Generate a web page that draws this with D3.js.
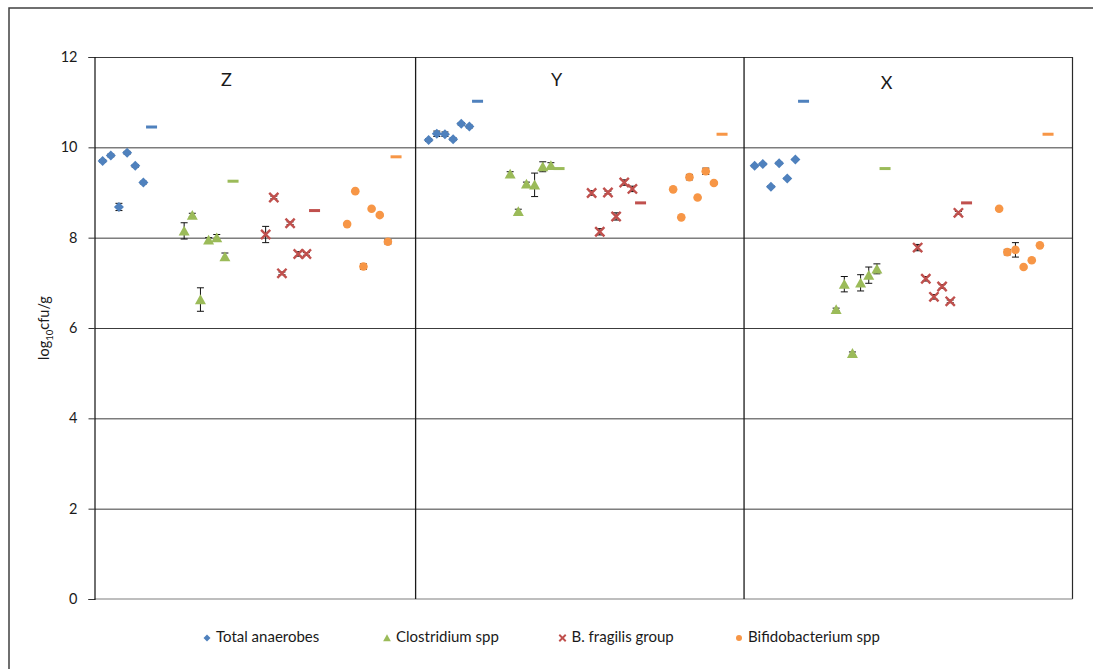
<!DOCTYPE html>
<html>
<head>
<meta charset="utf-8">
<script src="https://cdn.jsdelivr.net/npm/d3@7"></script>
<style>
  html, body { margin: 0; padding: 0; background: #fff; }
  svg { display: block; font-family: Lato, "Liberation Sans", sans-serif; }
</style>
</head>
<body>
<svg id="chart" width="1093" height="669"></svg>
<script>
// Sites (panels), left to right
const panels = ["Z", "Y", "X"];
const seriesNames = ["Total anaerobes", "Clostridium spp", "B. fragilis group", "Bifidobacterium spp"];
const yTicks = [0, 2, 4, 6, 8, 10, 12];

// log10 cfu/g per sample, one row per panel (Z, Y, X)
const totalAnaerobes = [
  [9.70, 9.82, 8.68, 9.88, 9.59, 9.22],
  [10.16, 10.30, 10.29, 10.18, 10.52, 10.46],
  [9.59, 9.63, 9.13, 9.65, 9.31, 9.73]
];
const totalAnaerobesErr = [
  [0.03, 0.03, 0.08, 0.03, 0.03, 0.03],
  [0.03, 0.06, 0.05, 0.03, 0.03, 0.03],
  [0.02, 0.02, 0.02, 0.02, 0.02, 0.02]
];
const totalAnaerobesRef = [10.45, 11.02, 11.02];

const clostridium = [
  [8.15, 8.50, 6.63, 7.95, 8.00, 7.58],
  [9.41, 8.58, 9.19, 9.17, 9.57, 9.60],
  [6.41, 6.97, 5.44, 7.00, 7.17, 7.31]
];
const clostridiumErr = [
  [0.18, 0.04, 0.26, 0.05, 0.07, 0.08],
  [0.05, 0.05, 0.04, 0.26, 0.11, 0.06],
  [0.03, 0.17, 0.03, 0.18, 0.18, 0.11]
];
const clostridiumRef = [9.25, 9.53, 9.53];

const bFragilis = [
  [8.07, 8.89, 7.21, 8.32, 7.64, 7.64],
  [8.99, 8.13, 9.00, 8.47, 9.22, 9.08],
  [7.78, 7.09, 6.69, 6.92, 6.59, 8.55]
];
const bFragilisErr = [
  [0.18, 0.03, 0.03, 0.03, 0.05, 0.03],
  [0.05, 0.07, 0.03, 0.08, 0.06, 0.06],
  [0.07, 0.05, 0.05, 0.04, 0.03, 0.03]
];
const bFragilisRef = [8.60, 8.77, 8.77];

const bifidobacterium = [
  [8.30, 9.03, 7.36, 8.64, 8.50, 7.91],
  [9.07, 8.45, 9.34, 8.89, 9.47, 9.21],
  [8.64, 7.68, 7.73, 7.35, 7.50, 7.83]
];
const bifidobacteriumErr = [
  [0.02, 0.02, 0.06, 0.02, 0.02, 0.05],
  [0.02, 0.02, 0.06, 0.02, 0.07, 0.02],
  [0.02, 0.06, 0.16, 0.02, 0.02, 0.02]
];
const bifidobacteriumRef = [9.79, 10.29, 10.29];

// ---- layout ----
const svg = d3.select("#chart");
const plotLeft = 94.5, plotRight = 1072.5, plotTop = 57, plotBottom = 599;
const x = d3.scaleLinear().domain([0, 120]).range([plotLeft, plotRight]);
const y = d3.scaleLinear().domain([0, 12]).range([plotBottom, plotTop]);
// each panel spans 40 x-units, each organism group 10 units: 6 samples then the reference dash
const xPos = (p, g, i) => p * 40 + g * 10 + i + 1;
const dividers = [39.4, 79.7];

const colors = ["#4F81BD", "#9BBB59", "#C0504D", "#F79646"];
const shapes = ["diamond", "triangle", "cross", "circle"];
const series = [
  { values: totalAnaerobes, err: totalAnaerobesErr, ref: totalAnaerobesRef },
  { values: clostridium, err: clostridiumErr, ref: clostridiumRef },
  { values: bFragilis, err: bFragilisErr, ref: bFragilisRef },
  { values: bifidobacterium, err: bifidobacteriumErr, ref: bifidobacteriumRef }
];

// outer chart frame
svg.append("rect")
  .attr("x", 9).attr("y", 8).attr("width", 1200).attr("height", 800)
  .attr("fill", "none").attr("stroke", "#404040").attr("stroke-width", 1.5);

// horizontal gridlines
svg.append("g")
  .attr("transform", `translate(${plotLeft},0)`)
  .call(d3.axisLeft(y).tickValues(yTicks.filter(t => t > 0)).tickSize(-(plotRight - plotLeft)).tickFormat(""))
  .call(g => g.select(".domain").remove())
  .call(g => g.selectAll("line").attr("stroke", "#3c3c3c").attr("stroke-width", 1));

// plot border on the right, x axis line at the bottom
svg.append("line").attr("x1", plotRight).attr("x2", plotRight).attr("y1", plotTop).attr("y2", plotBottom)
  .attr("stroke", "#2a2a2a").attr("stroke-width", 1.2);
svg.append("line").attr("x1", plotLeft).attr("x2", plotRight).attr("y1", plotBottom).attr("y2", plotBottom)
  .attr("stroke", "#7f7f7f").attr("stroke-width", 1.2);

// panel dividers
svg.append("g").selectAll("line").data(dividers).join("line")
  .attr("x1", d => x(d)).attr("x2", d => x(d))
  .attr("y1", y(0)).attr("y2", y(12))
  .attr("stroke", "#1a1a1a").attr("stroke-width", 1.3);

// y axis
const yAxis = svg.append("g")
  .attr("transform", `translate(${plotLeft},0)`)
  .call(d3.axisLeft(y).tickValues(yTicks).tickSize(6).tickPadding(11).tickFormat(d3.format("d")));
yAxis.select(".domain").attr("stroke", "#111").attr("stroke-width", 1.2);
yAxis.selectAll(".tick line").attr("stroke", "#333");
yAxis.selectAll(".tick text")
  .attr("font-family", "Lato, sans-serif").attr("font-size", 14.5).attr("fill", "#1a1a1a");

// y axis title with subscript
const yTitle = svg.append("text")
  .attr("transform", `translate(49,${(plotTop + plotBottom) / 2}) rotate(-90)`)
  .attr("text-anchor", "middle")
  .attr("font-size", 14.5).attr("fill", "#1a1a1a");
yTitle.append("tspan").text("log");
yTitle.append("tspan").attr("font-size", 9.5).attr("dy", 3.5).text("10");
yTitle.append("tspan").attr("dy", -3.5).text("cfu/g");

// panel labels
svg.append("g").selectAll("text").data(panels).join("text")
  .attr("x", (d, p) => x(p * 40.5 + 16.2))
  .attr("y", (d, p) => y(11.45) + (p === 2 ? 3 : 0))
  .attr("text-anchor", "middle").attr("dominant-baseline", "middle")
  .attr("font-size", 18).attr("fill", "#1a1a1a")
  .text(d => d);

// marker drawing
function drawMarker(sel, shape, color, s) {
  if (shape === "diamond") {
    sel.append("path").attr("d", `M0,${-5 * s}L${5 * s},0L0,${5 * s}L${-5 * s},0Z`).attr("fill", color);
  } else if (shape === "triangle") {
    sel.append("path").attr("d", `M0,${-5.2 * s}L${5.5 * s},${4.6 * s}L${-5.5 * s},${4.6 * s}Z`).attr("fill", color);
  } else if (shape === "cross") {
    const r = 4.6 * s;
    sel.append("path").attr("d", `M${-r},${-r}L${r},${r}M${-r},${r}L${r},${-r}`)
      .attr("stroke", color).attr("stroke-width", 2.4 * Math.max(s, 0.8)).attr("fill", "none");
  } else {
    sel.append("circle").attr("r", 4.3 * s).attr("fill", color);
  }
}

const plot = svg.append("g");
series.forEach((sr, g) => {
  const pts = [];
  sr.values.forEach((row, p) => row.forEach((v, i) => pts.push({ xv: xPos(p, g, i), v, e: sr.err[p][i] })));
  const sg = plot.append("g");
  // error bars under the markers
  const eb = sg.append("g").attr("stroke", "#111").attr("stroke-width", 1);
  pts.forEach(d => {
    const cx = x(d.xv), y1 = y(d.v + d.e), y2 = y(d.v - d.e);
    eb.append("line").attr("x1", cx).attr("x2", cx).attr("y1", y1).attr("y2", y2);
    eb.append("line").attr("x1", cx - 3.5).attr("x2", cx + 3.5).attr("y1", y1).attr("y2", y1);
    eb.append("line").attr("x1", cx - 3.5).attr("x2", cx + 3.5).attr("y1", y2).attr("y2", y2);
  });
  sg.selectAll("g.pt").data(pts).join("g").attr("class", "pt")
    .attr("transform", d => `translate(${x(d.xv)},${y(d.v)})`)
    .each(function () { drawMarker(d3.select(this), shapes[g], colors[g], 1); });
  // reference dash per panel
  sg.selectAll("rect.ref").data(sr.ref).join("rect").attr("class", "ref")
    .attr("x", (d, p) => x(xPos(p, g, 6)) - 5.5)
    .attr("y", d => y(d) - 1.5)
    .attr("width", 11).attr("height", 3)
    .attr("fill", colors[g]);
});

// legend
const legend = svg.append("g").attr("transform", "translate(0,638)");
const legendX = [207, 387, 562.5, 739];
seriesNames.forEach((name, g) => {
  const item = legend.append("g").attr("transform", `translate(${legendX[g]},0)`);
  drawMarker(item.append("g"), shapes[g], colors[g], 0.7);
  item.append("text").attr("x", 9).attr("y", 0).attr("dominant-baseline", "middle")
    .attr("font-size", 15).attr("fill", "#1a1a1a").text(name);
});
</script>
</body>
</html>
